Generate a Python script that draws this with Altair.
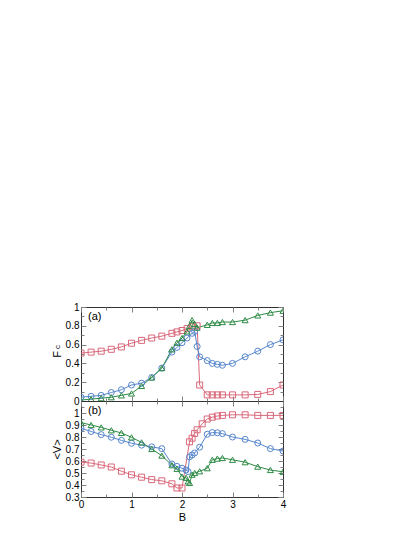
import altair as alt
import pandas as pd

# ---------------- data: panel (a) F_c vs B ----------------
B_red_a = [0, 0.2, 0.4, 0.6, 0.8, 1.0, 1.2, 1.4, 1.6, 1.8, 1.9, 2.0, 2.1, 2.2, 2.3, 2.35,
           2.5, 2.6, 2.7, 2.8, 3.0, 3.25, 3.5, 3.75, 4.0]
F_red_a = [0.51, 0.52, 0.53, 0.55, 0.575, 0.615, 0.645, 0.67, 0.69, 0.72, 0.735, 0.75, 0.77, 0.79, 0.80, 0.17,
           0.065, 0.065, 0.065, 0.065, 0.065, 0.065, 0.07, 0.10, 0.17]

B_blue_a = [0, 0.2, 0.4, 0.6, 0.8, 1.0, 1.2, 1.4, 1.6, 1.8, 1.9, 2.0, 2.1, 2.2, 2.25, 2.3, 2.35,
            2.5, 2.6, 2.7, 2.8, 3.0, 3.25, 3.5, 3.75, 4.0]
F_blue_a = [0.04, 0.05, 0.06, 0.09, 0.12, 0.17, 0.19, 0.25, 0.35, 0.52, 0.57, 0.62, 0.67, 0.72, 0.74, 0.58, 0.47,
            0.43, 0.40, 0.39, 0.38, 0.40, 0.47, 0.53, 0.60, 0.65]

B_green_a = [0, 0.2, 0.4, 0.6, 0.8, 1.0, 1.2, 1.4, 1.6, 1.8, 1.9, 2.0, 2.1, 2.15, 2.2, 2.25, 2.3,
             2.5, 2.6, 2.7, 2.8, 3.0, 3.25, 3.5, 3.75, 4.0]
F_green_a = [0.01, 0.02, 0.03, 0.04, 0.06, 0.08, 0.16, 0.25, 0.35, 0.55, 0.62, 0.67, 0.74, 0.80, 0.86, 0.82, 0.78,
             0.81, 0.83, 0.83, 0.84, 0.84, 0.86, 0.91, 0.94, 0.96]

# ---------------- data: panel (b) <V> vs B ----------------
B_red_b = [0, 0.2, 0.4, 0.6, 0.8, 1.0, 1.2, 1.4, 1.6, 1.8, 1.9, 2.0, 2.15, 2.2, 2.25, 2.3, 2.4,
           2.5, 2.6, 2.7, 2.8, 3.0, 3.25, 3.5, 3.75, 4.0]
V_red_b = [0.59, 0.583, 0.567, 0.55, 0.515, 0.485, 0.465, 0.445, 0.435, 0.41, 0.375, 0.375, 0.76, 0.79, 0.83, 0.86,
           0.91, 0.95, 0.965, 0.975, 0.98, 0.985, 0.985, 0.98, 0.98, 0.98]

B_blue_b = [0, 0.2, 0.4, 0.6, 0.8, 1.0, 1.2, 1.4, 1.6, 1.8, 1.9, 2.0, 2.08, 2.12, 2.15, 2.2, 2.25, 2.35,
            2.5, 2.6, 2.7, 2.8, 3.0, 3.25, 3.5, 3.75, 4.0]
V_blue_b = [0.873, 0.846, 0.82, 0.798, 0.772, 0.748, 0.732, 0.718, 0.703, 0.575, 0.555, 0.54, 0.525, 0.512, 0.635,
            0.65, 0.667, 0.715, 0.823, 0.837, 0.835, 0.828, 0.80, 0.78, 0.75, 0.703, 0.683]

B_green_b = [0, 0.2, 0.4, 0.6, 0.8, 1.0, 1.2, 1.4, 1.6, 1.8, 1.9, 2.0, 2.08, 2.12, 2.15, 2.2, 2.25, 2.35,
             2.5, 2.6, 2.7, 2.8, 3.0, 3.25, 3.5, 3.75, 4.0]
V_green_b = [0.92, 0.90, 0.88, 0.856, 0.834, 0.797, 0.755, 0.70, 0.645, 0.565, 0.535, 0.47, 0.46, 0.43, 0.417,
             0.486, 0.50, 0.514, 0.54, 0.61, 0.62, 0.625, 0.61, 0.59, 0.553, 0.525, 0.51]

SERIES = ["red", "blue", "green"]
COLORS = ["#d9687a", "#5585cc", "#2e8a45"]
SHAPES = ["square", "circle", "triangle-up"]

X_TICKS = [0, 0.5, 1, 1.5, 2, 2.5, 3, 3.5, 4]
Y_TICKS_A = [0, 0.1, 0.2, 0.3, 0.4, 0.5, 0.6, 0.7, 0.8, 0.9, 1.0]
Y_TICKS_B = [0.3, 0.35, 0.4, 0.45, 0.5, 0.55, 0.6, 0.65, 0.7, 0.75, 0.8, 0.85, 0.9, 0.95, 1.0, 1.05]

FONT = "Liberation Sans"
TICK = "#808080"


def frame(parts):
    rows = []
    for name, xs, ys in parts:
        for b, v in zip(xs, ys):
            rows.append({"series": name, "B": b, "v": v})
    return pd.DataFrame(rows)


df_a = frame([("red", B_red_a, F_red_a), ("blue", B_blue_a, F_blue_a), ("green", B_green_a, F_green_a)])
df_b = frame([("red", B_red_b, V_red_b), ("blue", B_blue_b, V_blue_b), ("green", B_green_b, V_green_b)])


def axis(orient, values, major_test, labels, title="", label_test=None, title_pad=3):
    kw = dict(
        orient=orient, values=values, grid=True, gridColor=TICK, gridWidth=1, gridOpacity=1,
        gridDash={"condition": {"test": major_test, "value": [5, 1000]}, "value": [3, 1000]},
        ticks=False, domain=False, labels=labels, title=title, labelOverlap=False, labelFlush=False,
        labelFont=FONT, labelFontSize=10, labelColor="black", labelPadding=2, format="~g",
        titleFont=FONT, titleFontSize=11, titleFontWeight="normal", titleColor="black",
        titlePadding=title_pad,
    )
    if labels and label_test:
        kw["labelExpr"] = label_test + " ? datum.label : ''"
    return alt.Axis(**kw)


X_MAJOR = "abs(datum.value - round(datum.value)) < 0.001"


def panel(df, ydomain, yticks, ymajor, ylabel_test, xlabels, xtitle, ytitle, height, tag):
    xs = alt.Scale(domain=[0, 4], nice=False, zero=False)
    ys = alt.Scale(domain=ydomain, nice=False, zero=False)
    color = alt.Color("series:N", scale=alt.Scale(domain=SERIES, range=COLORS), legend=None)
    shape = alt.Shape("series:N", scale=alt.Scale(domain=SERIES, range=SHAPES), legend=None)
    data = alt.Chart(df).mark_line(
        strokeWidth=1, clip=True,
        point=alt.OverlayMarkDef(filled=False, size=36, strokeWidth=1),
    ).encode(
        x=alt.X("B:Q", scale=xs,
                axis=axis("bottom", X_TICKS, X_MAJOR, xlabels, xtitle, X_MAJOR, title_pad=2)),
        y=alt.Y("v:Q", scale=ys, axis=axis("left", yticks, ymajor, True, ytitle, ylabel_test)),
        color=color, shape=shape,
    )
    mirror = alt.Chart(df).mark_point(opacity=0).encode(
        x=alt.X("B:Q", scale=xs, axis=axis("top", X_TICKS, X_MAJOR, False)),
        y=alt.Y("v:Q", scale=ys, axis=axis("right", yticks, ymajor, False)),
    )
    label = alt.Chart(pd.DataFrame({"t": [tag]})).mark_text(
        align="left", baseline="middle", font=FONT, fontSize=11, color="black"
    ).encode(x=alt.value(7), y=alt.value(10), text="t:N")
    return alt.layer(data, mirror, label).resolve_axis(x="independent", y="independent").properties(
        width=202, height=height)


top = panel(df_a, [0, 1], Y_TICKS_A,
            "abs(datum.value*5 - round(datum.value*5)) < 0.001",
            "abs(datum.value*5 - round(datum.value*5)) < 0.001",
            False, "", "F", 94, "(a)")
sub = alt.Chart(pd.DataFrame({"t": ["c"]})).mark_text(
    align="center", baseline="middle", font=FONT, fontSize=8, color="black", angle=270
).encode(x=alt.value(-23), y=alt.value(40), text="t:N")
top = alt.layer(top, sub)

bottom = panel(df_b, [0.3, 1.1], Y_TICKS_B,
               "abs(datum.value*10 - round(datum.value*10)) < 0.001",
               "abs(datum.value*10 - round(datum.value*10)) < 0.001",
               True, "B", "<V>", 96, "(b)")

chart = alt.vconcat(top, bottom, spacing=0, bounds="flush").properties(
    padding={"left": 42, "top": 293, "right": 5, "bottom": 5}
).configure_view(stroke="#333333", strokeWidth=1)

chart.save("out.html", embed_options={"renderer": "svg", "actions": False})
